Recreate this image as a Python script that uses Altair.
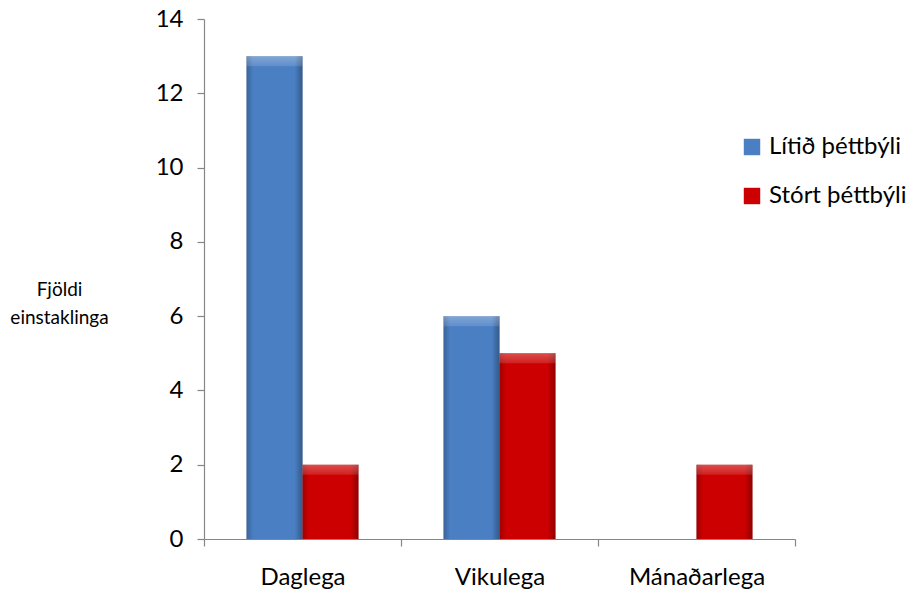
import altair as alt
import pandas as pd

# Chart data
categories = ["Daglega", "Vikulega", "Mánaðarlega"]
series = ["Lítið þéttbýli", "Stórt þéttbýli"]
litid_thettbyli = [13, 6, 0]
stort_thettbyli = [2, 5, 2]
y_ticks = [0, 2, 4, 6, 8, 10, 12, 14]
series_colors = ["#4a7fc4", "#cc0000"]

rows = []
for cat, a, b in zip(categories, litid_thettbyli, stort_thettbyli):
    rows.append({"flokkur": cat, "hopur": series[0], "fjoldi": a})
    rows.append({"flokkur": cat, "hopur": series[1], "fjoldi": b})
df = pd.DataFrame(rows)

FONT = "Lato"
AXIS_GREY = "#868686"

x_enc = alt.X(
    "flokkur:N",
    sort=categories,
    scale=alt.Scale(paddingInner=0, paddingOuter=0),
    axis=alt.Axis(
        title=None,
        labelAngle=0,
        tickBand="extent",
        labelFontSize=24,
        labelPadding=19,
        tickSize=7,
    ),
)
xoff_enc = alt.XOffset(
    "hopur:N", sort=series, scale=alt.Scale(paddingInner=0, paddingOuter=0.76)
)
y_enc = alt.Y(
    "fjoldi:Q",
    scale=alt.Scale(domain=[0, 14]),
    axis=alt.Axis(
        values=y_ticks,
        grid=False,
        labelFontSize=24,
        labelPadding=14,
        tickSize=7,
        title=["Fjöldi", "einstaklinga"],
        titleAngle=0,
        titleFontSize=19,
        titleFontWeight="normal",
        titleAlign="center",
        titleBaseline="middle",
        titleLineHeight=28,
        titleX=-145,
        titleY=270,
    ),
)

base = alt.Chart(df).encode(x=x_enc, xOffset=xoff_enc)
nonzero = base.transform_filter("datum.fjoldi > 0")

# soft drop shadow on the right side of each bar
shadow = nonzero.mark_bar(color="#000000", opacity=0.18, xOffset=3).encode(y=y_enc)

bars = nonzero.mark_bar().encode(
    y=y_enc,
    color=alt.Color(
        "hopur:N",
        sort=series,
        scale=alt.Scale(domain=series, range=series_colors),
        legend=alt.Legend(
            title=None,
            orient="none",
            legendX=536,
            legendY=116,
            symbolType="square",
            symbolSize=270,
            symbolStrokeWidth=0,
            symbolOpacity=1,
            labelFontSize=24,
            labelOffset=5,
            rowPadding=25,
        ),
    ),
)

# darker side edges for the bevelled look
sides = nonzero.mark_bar(
    fill=alt.Gradient(
        gradient="linear",
        x1=0, x2=1, y1=0, y2=0,
        stops=[
            alt.GradientStop(color="rgba(0,0,0,0.22)", offset=0),
            alt.GradientStop(color="rgba(0,0,0,0.0)", offset=0.12),
            alt.GradientStop(color="rgba(0,0,0,0.0)", offset=0.86),
            alt.GradientStop(color="rgba(0,0,0,0.30)", offset=1),
        ],
    )
).encode(y=y_enc)

# lighter strip along the top of each bar
top = nonzero.mark_bar(
    y2Offset=10,
    fill=alt.Gradient(
        gradient="linear",
        x1=0, x2=0, y1=0, y2=1,
        stops=[
            alt.GradientStop(color="rgba(255,255,255,0.30)", offset=0),
            alt.GradientStop(color="rgba(255,255,255,0.12)", offset=1),
        ],
    ),
).encode(y=y_enc, y2=alt.Y2("fjoldi:Q"))

chart = (
    alt.layer(shadow, bars, sides, top)
    .properties(
        width=591,
        height=520,
        autosize=alt.AutoSizeParams(type="none"),
        padding={"left": 204, "top": 19, "right": 112, "bottom": 51},
    )
    .configure(font=FONT)
    .configure_view(stroke=None)
    .configure_axis(
        domainColor=AXIS_GREY,
        tickColor=AXIS_GREY,
        domainWidth=1.2,
        tickWidth=1.2,
        labelColor="#000000",
        titleColor="#000000",
        labelFont=FONT,
        titleFont=FONT,
    )
    .configure_legend(labelColor="#000000", labelFont=FONT)
)

chart.save("out.html", embed_options={"renderer": "svg", "actions": False})
